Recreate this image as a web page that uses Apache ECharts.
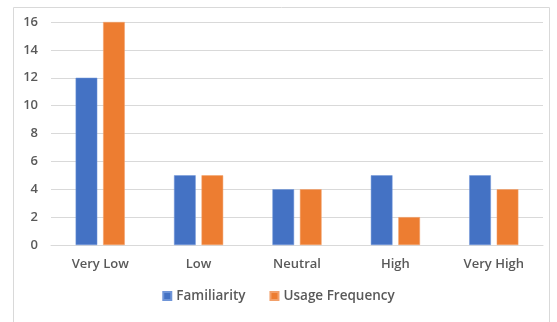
<!DOCTYPE html>
<html><head><meta charset="utf-8">
<script src="https://cdn.jsdelivr.net/npm/echarts@6/dist/echarts.min.js"></script>
<style>html,body{margin:0;padding:0;background:#fff}#c{width:557px;height:322px}</style>
</head><body><div id="c"></div>
<script>
const categories = ['Very Low', 'Low', 'Neutral', 'High', 'Very High'];
const familiarity = [12, 5, 4, 5, 5];
const usageFrequency = [16, 5, 4, 2, 4];
const yTicks = [0, 2, 4, 6, 8, 10, 12, 14, 16];

const chart = echarts.init(document.getElementById('c'), null, {renderer: 'canvas'});
const font = 'Open Sans, Liberation Sans, sans-serif';
chart.setOption({
  animation: false,
  graphic: [{
    type: 'rect', left: 11, top: 5, shape: {x: 0, y: 0, width: 536, height: 316},
    style: {fill: 'none', stroke: '#d9d9d9', lineWidth: 1}
  }],
  grid: {left: 51, right: 14, top: 22, bottom: 77, containLabel: false},
  legend: {
    bottom: 14, left: 'center', itemWidth: 8, itemHeight: 8, itemGap: 24,
    icon: 'rect',
    textStyle: {color: '#595959', fontSize: 13.5, fontFamily: font, fontWeight: 600},
    data: ['Familiarity', 'Usage Frequency']
  },
  xAxis: {
    type: 'category', data: categories,
    axisLine: {lineStyle: {color: '#d9d9d9'}},
    axisTick: {show: false},
    axisLabel: {color: '#595959', fontSize: 13, fontFamily: font, fontWeight: 600, margin: 13}
  },
  yAxis: {
    type: 'value', min: yTicks[0], max: yTicks[yTicks.length - 1], interval: 2,
    axisLine: {show: false}, axisTick: {show: false},
    splitLine: {lineStyle: {color: '#d9d9d9'}},
    axisLabel: {color: '#595959', fontSize: 13, fontFamily: font, fontWeight: 600, margin: 13}
  },
  series: [
    {name: 'Familiarity', type: 'bar', data: familiarity, barWidth: '22%', barGap: '27%',
     itemStyle: {color: '#4472c4', borderColor: '#6f95d8', borderWidth: 0.5}},
    {name: 'Usage Frequency', type: 'bar', data: usageFrequency, barWidth: '22%', barGap: '27%',
     itemStyle: {color: '#ed7d31', borderColor: '#f2a06a', borderWidth: 0.5}}
  ]
});
</script></body></html>
